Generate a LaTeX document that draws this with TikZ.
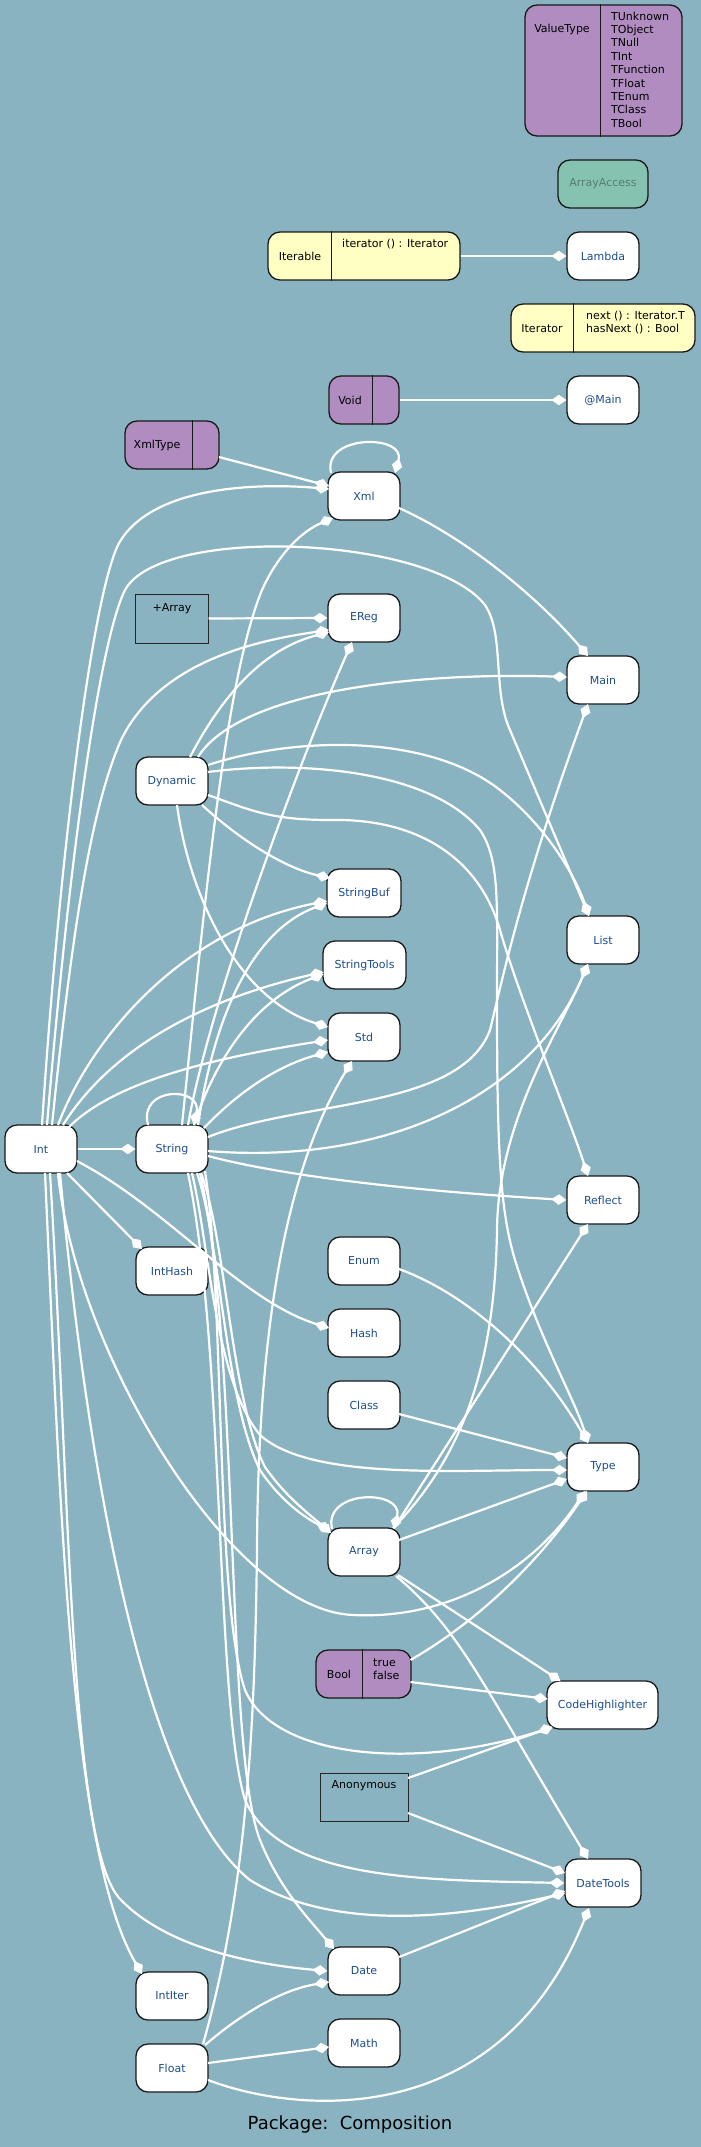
\documentclass[tikz,border=0pt]{standalone}
\usepackage{fontspec}
\setmainfont{DejaVu Sans}
\usetikzlibrary{arrows.meta,calc}
\definecolor{bgc}{RGB}{137,179,193}
\definecolor{purp}{RGB}{176,140,193}
\definecolor{yel}{RGB}{255,255,196}
\definecolor{teal2}{RGB}{134,194,176}
\definecolor{nblue}{RGB}{28,78,140}
\definecolor{aatext}{RGB}{85,125,112}
\newcommand\mynf{\fontsize{11}{13.4}\selectfont}
\newcommand\mytf{\fontsize{18}{22}\selectfont}
\begin{document}
\begin{tikzpicture}[x=1pt,y=-1pt,
  cls/.style={draw=black!90, line width=1.3pt, fill=white, rounded corners=12pt, minimum width=72pt, minimum height=48pt, inner sep=0pt, font=\mynf, text=nblue},
  rec/.style={draw=black!90, line width=1.3pt, rounded corners=12pt, inner sep=0pt, minimum height=48pt},
  abox/.style={draw=black!85, line width=1pt, inner sep=0pt},
  divl/.style={draw=black!90, line width=1.3pt},
  lbl/.style={font=\mynf, text=black, inner sep=0pt, anchor=base},
  lbll/.style={font=\mynf, text=black, inner sep=0pt, anchor=base west},
  cedge/.style={draw=white, line width=2.2pt, -{Diamond[length=15pt,width=10.5pt]}},
]
\fill[bgc] (0,0) rectangle (701,2147);
\useasboundingbox (0,0) rectangle (701,2147);

% ---------- nodes ----------
\node[rec, fill=purp, minimum width=157pt, minimum height=131pt] (ValueType) at (603.5,70.5) {};
\draw[divl] ($(ValueType.north west)+(76,0)$) -- ($(ValueType.south west)+(76,0)$);
\node[lbl] (vtname) at (562,32) {ValueType};
\foreach \t [count=\i] in {TUnknown,TObject,TNull,TInt,TFunction,TFloat,TEnum,TClass,TBool}
  \node[lbll] (vt\i) at (611,{6.6+13.4*\i}) {\t};

\node[cls, fill=teal2, text=aatext, minimum width=90pt] (ArrayAccess) at (603,184) {ArrayAccess};

\node[rec, fill=yel, minimum width=192pt] (Iterable) at (364,256) {};
\draw[divl] ($(Iterable.north west)+(64,0)$) -- ($(Iterable.south west)+(64,0)$);
\node[lbl] (itbname) at (300,260) {Iterable};
\node[lbll] (itbm) at (342,247) {iterator () : Iterator};
\node[cls] (Lambda) at (603,256) {Lambda};

\node[rec, fill=yel, minimum width=184pt] (Iterator) at (603,328) {};
\draw[divl] ($(Iterator.north west)+(63,0)$) -- ($(Iterator.south west)+(63,0)$);
\node[lbl] (itname) at (542,332) {Iterator};
\node[lbll] (itm1) at (586,319) {next () : Iterator.T};
\node[lbll] (itm2) at (586,332) {hasNext () : Bool};

\node[rec, fill=purp, minimum width=70pt] (Void) at (364,400) {};
\draw[divl] ($(Void.north west)+(44,0)$) -- ($(Void.south west)+(44,0)$);
\node[lbl] (voidname) at (350,404) {Void};
\node[cls] (AtMain) at (603,400) {@Main};

\node[rec, fill=purp, minimum width=94pt] (XmlType) at (172,445) {};
\draw[divl] ($(XmlType.north west)+(68,0)$) -- ($(XmlType.south west)+(68,0)$);
\node[lbl] (xtname) at (157,448) {XmlType};
\node[cls] (Xml) at (364,496) {Xml};

\node[abox, minimum width=73pt, minimum height=49pt] (PlusArray) at (171.5,618.5) {};
\node[lbl] (paname) at (172,611) {+Array};
\node[cls] (EReg) at (364,618) {EReg};
\node[cls] (Main) at (603,680) {Main};
\node[cls] (Dynamic) at (172,781) {Dynamic};
\node[cls, minimum width=74pt] (StringBuf) at (364,893) {StringBuf};
\node[cls, minimum width=83pt] (StringTools) at (364.5,965) {StringTools};
\node[cls] (List) at (603,940) {List};
\node[cls] (Std) at (364,1037) {Std};
\node[cls] (Int) at (41,1149) {Int};
\node[cls] (String) at (172,1149) {String};
\node[cls] (Reflect) at (603,1200) {Reflect};
\node[cls] (Enum) at (364,1261) {Enum};
\node[cls] (IntHash) at (172,1271) {IntHash};
\node[cls] (Hash) at (364,1333) {Hash};
\node[cls] (Class) at (364,1405) {Class};
\node[cls] (Type) at (603,1467) {Type};
\node[cls] (Array) at (364,1552) {Array};

\node[rec, fill=purp, minimum width=95pt] (Bool) at (363.5,1674) {};
\draw[divl] ($(Bool.north west)+(47,0)$) -- ($(Bool.south west)+(47,0)$);
\node[lbl] (boolname) at (339,1678) {Bool};
\node[lbll] (booltrue) at (373,1666) {true};
\node[lbll] (boolfalse) at (373,1679) {false};

\node[cls, minimum width=111pt] (CodeHighlighter) at (602.5,1705) {CodeHighlighter};
\node[abox, minimum width=88pt, minimum height=48pt] (Anonymous) at (364,1797) {};
\node[lbl] (anname) at (364,1788) {Anonymous};
\node[cls, minimum width=76pt] (DateTools) at (603,1883) {DateTools};
\node[cls] (Date) at (364,1971) {Date};
\node[cls] (IntIter) at (172,1996) {IntIter};
\node[cls] (Math) at (364,2043) {Math};
\node[cls] (Float) at (172,2068) {Float};
\node[font=\mytf, inner sep=0pt] (title) at (350,2125) {Package:\ \ Composition};

% ---------- edges ----------
\draw[cedge] (Iterable.east) -- (Lambda.west);
\draw[cedge] (Void.east) -- (AtMain.west);
\draw[cedge] ($(XmlType.center)+(47,12)$) -- ($(Xml.center)+(-35,-10)$);
\draw[cedge] ($(Xml.center)+(-33,-23)$) .. controls (322,434) and (406,434) .. ($(Xml.center)+(31,-23)$);
\draw[cedge] ($(Int.center)+(1,-24)$) .. controls (60,850) and (92,600) .. (118,545) .. controls (150,485) and (260,483) .. ($(Xml.center)+(-35,-7)$);
\draw[cedge] ($(Int.center)+(6,-24)$) .. controls (70,850) and (100,640) .. (125,590) .. controls (160,525) and (430,535) .. (485,605) .. controls (505,635) and (492,690) .. (510,730) -- ($(List.center)+(-14,-24)$);
\draw[cedge] ($(Int.center)+(11,-24)$) .. controls (75,900) and (95,800) .. (121,740) .. controls (160,660) and (260,640) .. ($(EReg.center)+(-35,12)$);
\draw[cedge] ($(Int.center)+(17,-24)$) .. controls (90,1040) and (180,930) .. ($(StringBuf.center)+(-37,8)$);
\draw[cedge] ($(String.center)+(26,-24)$) .. controls (215,1010) and (255,930) .. ($(StringBuf.center)+(-37,10)$);
\draw[cedge] ($(Int.center)+(22,-24)$) .. controls (110,1050) and (200,1000) .. ($(StringTools.center)+(-41,7)$);
\draw[cedge] ($(String.center)+(22,-24)$) .. controls (215,1060) and (255,1000) .. ($(StringTools.center)+(-41,9)$);
\draw[cedge] ($(Int.center)+(27,-21)$) .. controls (110,1085) and (200,1060) .. ($(Std.center)+(-36,3)$);
\draw[cedge] ($(String.center)+(32,-21)$) .. controls (240,1090) and (280,1065) .. ($(Std.center)+(-36,15)$);
\draw[cedge] ($(Dynamic.center)+(5,24)$) .. controls (190,900) and (240,1000) .. ($(Std.center)+(-36,-10)$);
\draw[cedge] ($(Dynamic.center)+(30,24)$) .. controls (240,840) and (285,868) .. ($(StringBuf.center)+(-34,-15)$);
\draw[cedge] ($(Dynamic.center)+(18,-24)$) .. controls (220,700) and (260,650) .. ($(EReg.center)+(-35,14)$);
\draw[cedge] ($(Dynamic.center)+(26,-24)$) .. controls (240,690) and (420,672) .. ($(Main.center)+(-36,-3)$);
\draw[cedge] ($(Dynamic.center)+(36,-16)$) .. controls (300,735) and (430,735) .. (500,790) .. controls (545,825) and (575,875) .. ($(List.center)+(-14,-24)$);
\draw[cedge] ($(Dynamic.center)+(36,-9)$) .. controls (300,760) and (430,770) .. (480,830) .. controls (500,860) and (497,900) .. (497,1000) .. controls (497,1150) and (500,1210) .. (515,1260) .. controls (540,1340) and (575,1400) .. ($(Type.center)+(-15,-24)$);
\draw[cedge] ($(Dynamic.center)+(36,14)$) .. controls (250,810) and (270,820) .. (330,820) .. controls (420,818) and (480,860) .. (500,930) .. controls (520,1000) and (570,1120) .. ($(Reflect.center)+(-15,-24)$);
\draw[cedge] ($(String.center)+(-24,-24)$) .. controls (138,1086) and (202,1086) .. ($(String.center)+(22,-24)$);
\draw[cedge] ($(String.center)+(10,-24)$) .. controls (205,900) and (225,680) .. (262,590) .. controls (280,550) and (305,530) .. ($(Xml.center)+(-31,22)$);
\draw[cedge] ($(String.center)+(16,-24)$) .. controls (210,1000) and (300,760) .. ($(EReg.center)+(-12,24)$);
\draw[cedge] (Int.east) -- (String.west);
\draw[cedge] ($(String.center)+(36,-12)$) .. controls (300,1100) and (460,1110) .. (490,1030) .. controls (500,990) and (520,890) .. ($(Main.center)+(-15,24)$);
\draw[cedge] ($(String.center)+(36,2)$) .. controls (380,1165) and (530,1100) .. ($(List.center)+(-15,24)$);
\draw[cedge] ($(String.center)+(36,7)$) .. controls (280,1175) and (400,1190) .. (Reflect.west);
\draw[cedge] ($(String.center)+(20,24)$) .. controls (210,1250) and (215,1380) .. (260,1435) .. controls (310,1480) and (450,1470) .. ($(Type.center)+(-36,3)$);
\draw[cedge] ($(String.center)+(25,24)$) .. controls (220,1240) and (225,1400) .. (260,1470) .. controls (280,1500) and (305,1518) .. ($(Array.center)+(-34,-22)$);
\draw[cedge] ($(String.center)+(29,24)$) .. controls (226,1240) and (231,1400) .. (265,1467) .. controls (285,1496) and (309,1514) .. ($(Array.center)+(-33,-19)$);
\draw[cedge] ($(String.center)+(33,22)$) .. controls (225,1300) and (215,1600) .. (245,1690) .. controls (275,1760) and (420,1770) .. ($(CodeHighlighter.center)+(-50,22)$);
\draw[cedge] ($(String.center)+(16,24)$) .. controls (225,1350) and (215,1700) .. (245,1800) .. controls (280,1880) and (420,1880) .. (DateTools.west);
\draw[cedge] ($(String.center)+(28,24)$) .. controls (240,1350) and (225,1750) .. (260,1840) .. controls (280,1890) and (310,1920) .. ($(Date.center)+(-30,-22)$);
\draw[cedge] ($(Int.center)+(26,24)$) -- ($(IntHash.center)+(-30,-22)$);
\draw[cedge] ($(Int.center)+(36,12)$) .. controls (170,1210) and (240,1300) .. ($(Hash.center)+(-35,-5)$);
\draw[cedge] ($(Int.center)+(17,24)$) .. controls (75,1350) and (230,1610) .. (353,1615) .. controls (460,1620) and (540,1560) .. ($(Type.center)+(-18,24)$);
\draw[cedge] ($(Bool.center)+(47,-14)$) .. controls (480,1620) and (540,1560) .. ($(Type.center)+(-16,24)$);
\draw[cedge] ($(Int.center)+(19,24)$) .. controls (90,1500) and (150,1800) .. (250,1880) .. controls (330,1930) and (450,1920) .. ($(DateTools.center)+(-38,10)$);
\draw[cedge] ($(Int.center)+(9,24)$) .. controls (70,1500) and (70,1850) .. (121,1900) .. controls (170,1950) and (260,1965) .. (Date.west);
\draw[cedge] ($(Int.center)+(4,24)$) .. controls (60,1500) and (70,1850) .. ($(IntIter.center)+(-30,-22)$);
\draw[cedge] (PlusArray.east) -- (EReg.west);
\draw[cedge] ($(Xml.center)+(35,12)$) .. controls (470,540) and (540,600) .. ($(Main.center)+(-15,-24)$);
\draw[cedge] ($(Enum.center)+(35,8)$) .. controls (470,1295) and (540,1360) .. ($(Type.center)+(-15,-24)$);
\draw[cedge] ($(Class.center)+(35,9)$) -- ($(Type.center)+(-36,-9)$);
\draw[cedge] ($(Array.center)+(35,-12)$) -- ($(Type.center)+(-36,12)$);
\draw[cedge] ($(Array.center)+(-32,-23)$) .. controls (323,1489) and (404,1489) .. ($(Array.center)+(30,-23)$);
\draw[cedge] ($(Array.center)+(29,-24)$) .. controls (470,1450) and (495,1350) .. (497,1230) .. controls (498,1120) and (560,1030) .. ($(List.center)+(-15,24)$);
\draw[cedge] ($(Array.center)+(30,-24)$) -- ($(Reflect.center)+(-15,24)$);
\draw[cedge] ($(Array.center)+(34,23)$) -- ($(CodeHighlighter.center)+(-42,-24)$);
\draw[cedge] ($(Array.center)+(32,24)$) .. controls (460,1630) and (480,1680) .. ($(DateTools.center)+(-15,-24)$);
\draw[cedge] ($(Bool.center)+(47,8)$) -- ($(CodeHighlighter.center)+(-55,-6)$);
\draw[cedge] ($(Anonymous.center)+(44,-19)$) -- ($(CodeHighlighter.center)+(-50,22)$);
\draw[cedge] ($(Anonymous.center)+(44,16)$) -- ($(DateTools.center)+(-38,-10)$);
\draw[cedge] ($(Date.center)+(35,-14)$) -- ($(DateTools.center)+(-38,8)$);
\draw[cedge] ($(Float.center)+(36,12)$) .. controls (300,2115) and (500,2130) .. ($(DateTools.center)+(-14,25)$);
\draw[cedge] ($(Float.center)+(36,-5)$) -- ($(Math.center)+(-35,4)$);
\draw[cedge] ($(Float.center)+(33,-23)$) .. controls (240,2015) and (280,1990) .. ($(Date.center)+(-35,11)$);
\draw[cedge] ($(Float.center)+(31,-24)$) .. controls (250,1880) and (255,1700) .. (257,1550) .. controls (258,1350) and (280,1180) .. ($(Std.center)+(-12,24)$);
\end{tikzpicture}
\end{document}
